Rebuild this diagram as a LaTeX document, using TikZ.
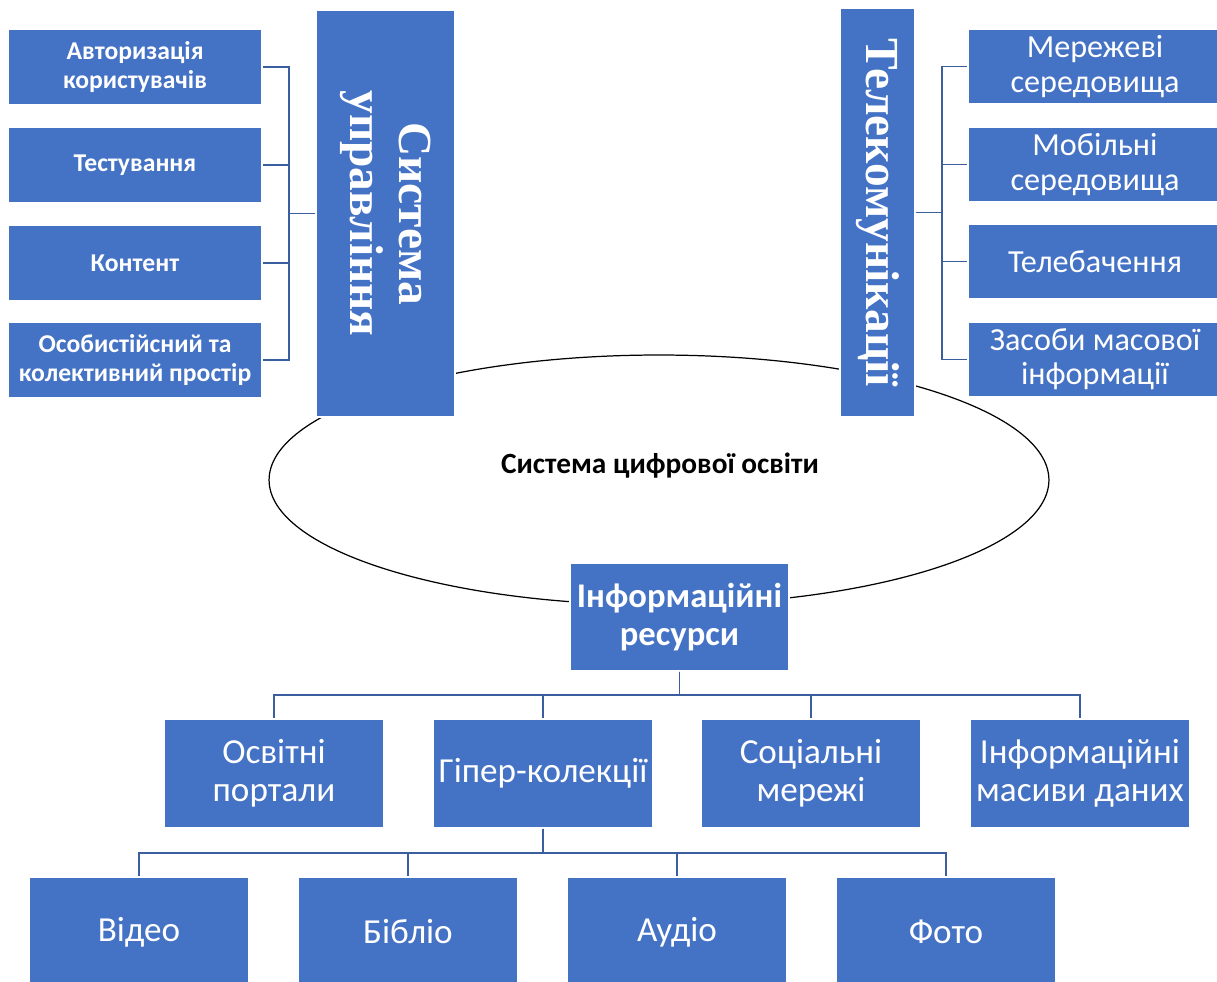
\documentclass[tikz,border=0pt]{standalone}
\usepackage{fontspec}
\setmainfont{Carlito}
\newfontfamily\tnrfont{Liberation Serif}
\definecolor{boxblue}{HTML}{4472C4}
\definecolor{connblue}{HTML}{3B5E9E}
\begin{document}
\begin{tikzpicture}[x=0.02cm,y=-0.02cm,
  box/.style={fill=boxblue,draw=white,line width=0.8pt,text=white,align=center,inner sep=0pt},
  smallbox/.style={box,minimum width=5.08cm,minimum height=1.5cm,font=\bfseries\fontsize{14.6}{16.5}\selectfont},
  rbox/.style={box,minimum width=5.08cm,minimum height=1.5cm,font=\fontsize{18.3}{19.5}\selectfont},
  bigbox/.style={box,rotate=-90,font=\tnrfont\bfseries\fontsize{27}{27.5}\selectfont},
  rowbox/.style={box,minimum width=4.4cm,minimum height=2.18cm,font=\fontsize{20}{21.8}\selectfont}
]
\tikzset{conn/.style={draw=connblue,line width=1pt}}
\useasboundingbox (0,0) rectangle (1217,982);
\clip (0,0) rectangle (1217,982);
\fill[white] (0,0) rectangle (1217,982);

% ellipse
\draw[black,line width=0.7pt] (659,480) ellipse [x radius=7.8cm, y radius=2.5cm];
\node[font=\bfseries\fontsize{16.7}{18}\selectfont,text=black] (core) at (660,466) {Система цифрової освіти};

% left group
\node[bigbox,minimum width=8.14cm,minimum height=2.78cm] (sysL) at (385.5,213.5) {Система\\управління};
\node[smallbox] (a1) at (135,67) {Авторизація\\користувачів};
\node[smallbox] (a2) at (135,165) {Тестування};
\node[smallbox] (a3) at (135,263) {Контент};
\node[smallbox] (a4) at (135,360) {Особистійсний та\\колективний простір};
\coordinate (lj) at (289,213.5);
\draw[conn] (sysL.south) -- (lj);
\foreach \n in {a1,a2,a3,a4} \draw[conn] (lj) |- (\n.east);

% right group
\node[bigbox,minimum width=8.18cm,minimum height=1.5cm] (tele) at (877.5,212.5) {Телекомунікації};
\node[rbox] (b1) at (1095,66.5) {Мережеві\\середовища};
\node[rbox] (b2) at (1095,164.5) {Мобільні\\середовища};
\node[rbox] (b3) at (1095,261.5) {Телебачення};
\node[rbox] (b4) at (1095,359.5) {Засоби масової\\інформації};
\coordinate (rj) at (942,212.5);
\draw[conn] (tele.north) -- (rj);
\foreach \n in {b1,b2,b3,b4} \draw[conn] (rj) |- (\n.west);

% info resources
\node[box,minimum width=4.38cm,minimum height=2.16cm,font=\bfseries\fontsize{19.7}{21.6}\selectfont] (info) at (679.5,617) {Інформаційні\\ресурси};
\node[rowbox] (c1) at (274,773.5) {Освітні\\портали};
\node[rowbox] (c2) at (543,773.5) {Гіпер-колекції};
\node[rowbox] (c3) at (811,773.5) {Соціальні\\мережі};
\node[rowbox] (c4) at (1080,773.5) {Інформаційні\\масиви даних};
\coordinate (bus1) at (0,695);
\foreach \n in {c1,c2,c3,c4} \draw[conn] (info.south) |- (\n.north |- bus1) -- (\n.north);

\node[rowbox,minimum height=2.2cm] (d1) at (139,932) {Відео};
\node[rowbox,minimum height=2.2cm] (d2) at (408,932) {Бібліо};
\node[rowbox,minimum height=2.2cm] (d3) at (677,932) {Аудіо};
\node[rowbox,minimum height=2.2cm] (d4) at (946,932) {Фото};
\coordinate (bus2) at (0,853);
\foreach \n in {d1,d2,d3,d4} \draw[conn] (c2.south) |- (\n.north |- bus2) -- (\n.north);
\end{tikzpicture}
\end{document}
